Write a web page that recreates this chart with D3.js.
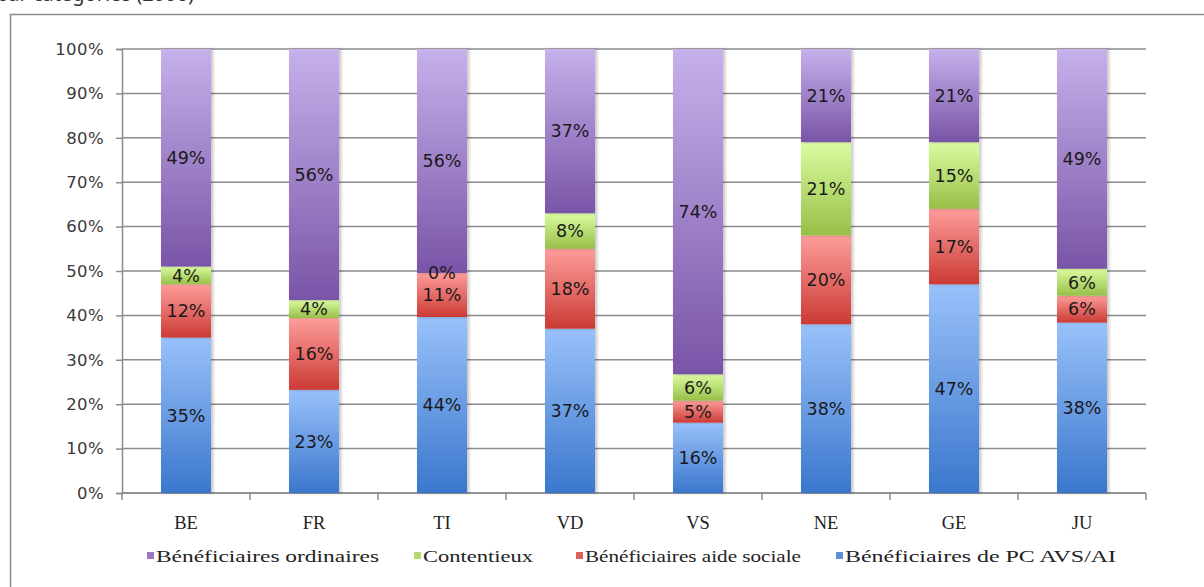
<!DOCTYPE html>
<html>
<head>
<meta charset="utf-8">
<script src="https://cdn.jsdelivr.net/npm/d3@7"></script>
<style>
  html, body { margin: 0; padding: 0; background: #fff; }
  svg { display: block; }
</style>
</head>
<body>
<svg id="chart" width="1204" height="587"></svg>
<script>
// ---- data (values as shown on the bars; the chart is 100% stacked) ----
const categories = ["BE", "FR", "TI", "VD", "VS", "NE", "GE", "JU"];
const seriesNames = ["Bénéficiaires de PC AVS/AI", "Bénéficiaires aide sociale", "Contentieux", "Bénéficiaires ordinaires"];
const pcAvsAi     = [35, 23, 44, 37, 16, 38, 47, 38];
const aideSociale = [12, 16, 11, 18, 5, 20, 17, 6];
const contentieux = [4, 4, 0, 8, 6, 21, 15, 6];
const ordinaires  = [49, 56, 56, 37, 74, 21, 21, 49];
const yTicks = [0, 0.1, 0.2, 0.3, 0.4, 0.5, 0.6, 0.7, 0.8, 0.9, 1];
const legendOrder = ["Bénéficiaires ordinaires", "Contentieux", "Bénéficiaires aide sociale", "Bénéficiaires de PC AVS/AI"];

const seriesValues = [pcAvsAi, aideSociale, contentieux, ordinaires];
const table = categories.map((c, i) => {
  const row = { cat: c };
  seriesNames.forEach((s, j) => row[s] = seriesValues[j][i]);
  return row;
});

// colours: [top, bottom] of gradient
const colors = {
  "Bénéficiaires de PC AVS/AI": ["#99c1fb", "#3a77cc"],
  "Bénéficiaires aide sociale": ["#fd9d9a", "#cc3a35"],
  "Contentieux": ["#dbfca0", "#97bf48"],
  "Bénéficiaires ordinaires": ["#c6b1eb", "#7954a7"]
};
const legendSwatch = {
  "Bénéficiaires de PC AVS/AI": "#5b8fdc",
  "Bénéficiaires aide sociale": "#e0605c",
  "Contentieux": "#b4d970",
  "Bénéficiaires ordinaires": "#9a78c8"
};

const svg = d3.select("#chart");
const defs = svg.append("defs");
seriesNames.forEach((s, i) => {
  const g = defs.append("linearGradient").attr("id", "grad" + i)
    .attr("x1", 0).attr("y1", 0).attr("x2", 0).attr("y2", 1);
  g.append("stop").attr("offset", "0%").attr("stop-color", colors[s][0]);
  g.append("stop").attr("offset", "100%").attr("stop-color", colors[s][1]);
});
const f = defs.append("filter").attr("id", "shadow")
  .attr("x", "-20%").attr("y", "-5%").attr("width", "150%").attr("height", "110%");
f.append("feDropShadow").attr("dx", 2).attr("dy", 0).attr("stdDeviation", 1.5)
  .attr("flood-color", "#000").attr("flood-opacity", 0.25);

// title fragment at the very top (clipped by the picture edge in the reference)
svg.append("text")
  .attr("x", -4).attr("y", 1)
  .attr("font-family", "'Noto Sans', 'Liberation Sans', sans-serif")
  .attr("font-size", 20)
  .attr("fill", "#333")
  .text("par catégories (2006)");

// outer frame (continues past the picture edges)
svg.append("rect")
  .attr("x", 10.5).attr("y", 14.5).attr("width", 1300).attr("height", 700)
  .attr("fill", "none").attr("stroke", "#8a8a8a").attr("stroke-width", 1.5);

const pLeft = 122, pRight = 1146, pTop = 49, pBottom = 493;
const x = d3.scaleBand().domain(categories).range([pLeft, pRight])
  .paddingInner(0.609).paddingOuter(0.3045);
const y = d3.scaleLinear().domain([0, 1]).range([pBottom, pTop]);

// gridlines
svg.append("g").selectAll("line").data(yTicks).join("line")
  .attr("x1", pLeft).attr("x2", pRight)
  .attr("y1", d => y(d)).attr("y2", d => y(d))
  .attr("stroke", "#8c8c8c").attr("stroke-width", 1.5);

// y axis
const yAxis = svg.append("g").attr("transform", `translate(${pLeft},0)`)
  .call(d3.axisLeft(y).tickValues(yTicks).tickFormat(d3.format(".0%")).tickSize(6).tickPadding(12));
yAxis.select(".domain").attr("stroke", "#8c8c8c").attr("stroke-width", 1.5);
yAxis.selectAll(".tick line").attr("stroke", "#8c8c8c").attr("stroke-width", 1.5);
yAxis.selectAll(".tick text")
  .attr("font-family", "'DejaVu Sans', Verdana, sans-serif")
  .attr("font-size", 16.5).attr("letter-spacing", 0.4).attr("fill", "#3a3a3a");

// x axis line + ticks at band boundaries
svg.append("line").attr("x1", pLeft).attr("x2", pRight).attr("y1", pBottom).attr("y2", pBottom)
  .attr("stroke", "#8c8c8c").attr("stroke-width", 1.5);
const bounds = d3.range(categories.length + 1).map(i => pLeft + i * x.step());
svg.append("g").selectAll("line").data(bounds).join("line")
  .attr("x1", d => d).attr("x2", d => d).attr("y1", pBottom).attr("y2", pBottom + 7)
  .attr("stroke", "#8c8c8c").attr("stroke-width", 1.5);
svg.append("g").selectAll("text").data(categories).join("text")
  .attr("x", d => x(d) + x.bandwidth() / 2).attr("y", 529)
  .attr("text-anchor", "middle")
  .attr("font-family", "'Liberation Serif', 'DejaVu Serif', serif")
  .attr("font-size", 18.5).attr("fill", "#1e1e1e")
  .text(d => d);

// stacked bars
const stack = d3.stack().keys(seriesNames).offset(d3.stackOffsetExpand);
const layers = stack(table);
const gBars = svg.append("g");
layers.forEach((layer, i) => {
  gBars.append("g").selectAll("rect").data(layer).join("rect")
    .attr("x", d => x(d.data.cat))
    .attr("width", x.bandwidth())
    .attr("y", d => y(d[1]))
    .attr("height", d => Math.max(0, y(d[0]) - y(d[1])))
    .attr("fill", `url(#grad${i})`)
    .attr("filter", "url(#shadow)");
});
// labels
layers.forEach((layer, i) => {
  const key = layer.key;
  gBars.append("g").selectAll("text").data(layer).join("text")
    .attr("x", d => x(d.data.cat) + x.bandwidth() / 2)
    .attr("y", d => (y(d[0]) + y(d[1])) / 2)
    .attr("dy", "0.36em")
    .attr("text-anchor", "middle")
    .attr("font-family", "'DejaVu Sans', Verdana, sans-serif")
    .attr("font-size", 17.5).attr("fill", "#1a1a1a")
    .text(d => d.data[key] + "%");
});

// legend
const legendX = [147, 414, 576, 836];
const legendW = [223, 110, 216, 271];
const lg = svg.append("g");
legendOrder.forEach((s, i) => {
  lg.append("rect").attr("x", legendX[i]).attr("y", 552).attr("width", 7).attr("height", 7)
    .attr("fill", legendSwatch[s]);
  lg.append("text").attr("x", legendX[i] + 9).attr("y", 562)
    .attr("font-family", "'Liberation Serif', 'DejaVu Serif', serif")
    .attr("font-size", 17).attr("fill", "#222")
    .attr("textLength", legendW[i]).attr("lengthAdjust", "spacingAndGlyphs")
    .text(s);
});
</script>
</body>
</html>
